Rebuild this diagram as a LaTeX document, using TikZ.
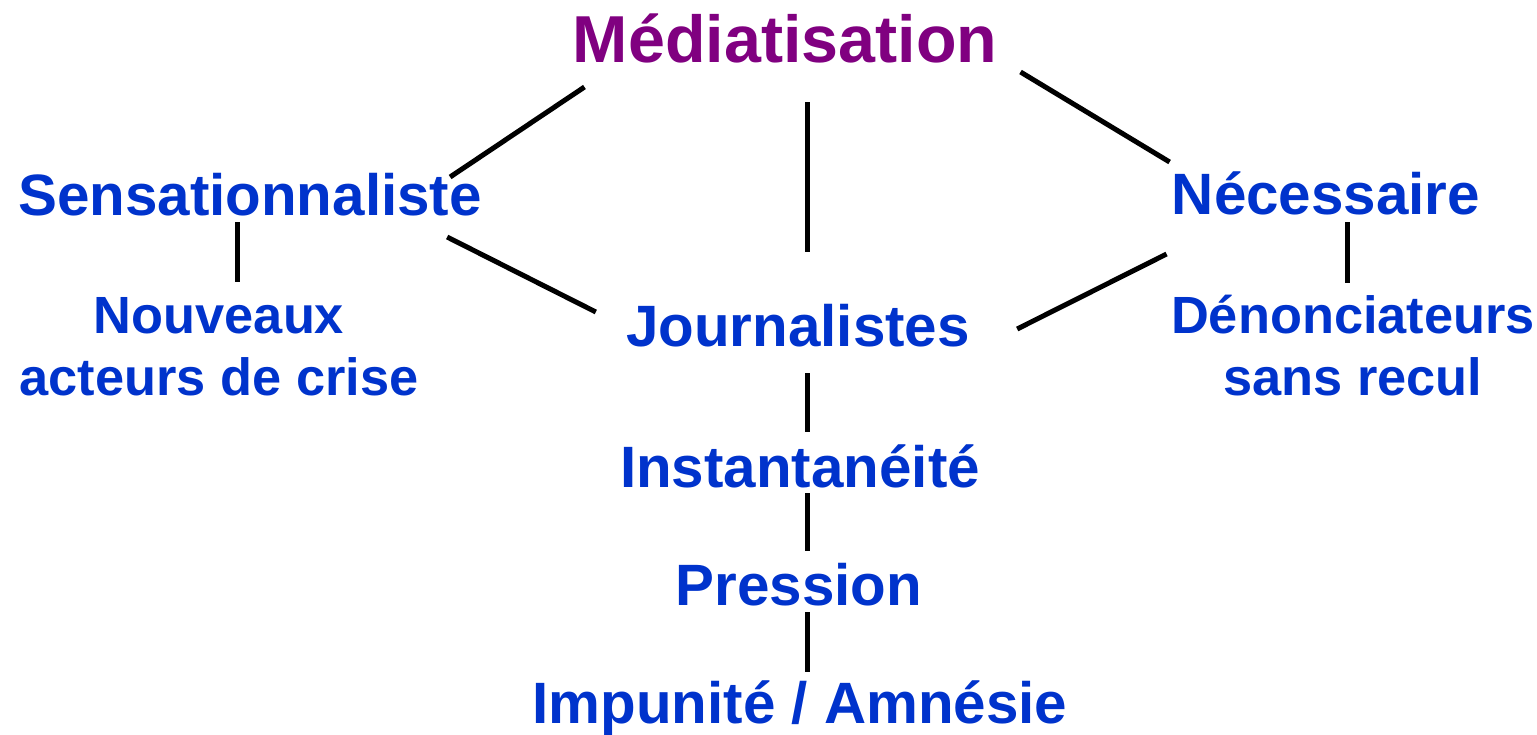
\documentclass[tikz,border=0pt]{standalone}
\usepackage{fontspec}
\setmainfont{Liberation Sans}
\usepackage{tikz}
\usetikzlibrary{calc}
\definecolor{termblue}{HTML}{0033CC}
\definecolor{rootpurple}{HTML}{800080}

\begin{document}
\begin{tikzpicture}[x=0.02cm, y=-0.02cm,
    term/.style={inner sep=0pt, anchor=base, text=termblue, font=\fontsize{33.2}{36}\selectfont\bfseries},
    sub/.style={inner sep=0pt, anchor=base, align=center, text=termblue, font=\fontsize{29.8}{35.2}\selectfont\bfseries},
    link/.style={line width=0.1cm}]
    \useasboundingbox (0,0) rectangle (1537,734);
    \node[inner sep=0pt, anchor=base, text=rootpurple, font=\fontsize{37.8}{40}\selectfont\bfseries] (M) at (785,62) {Médiatisation};
    \node[term] (S) at (250,215) {Sensationnaliste};
    \node[term] (N) at (1326,214) {Nécessaire};
    \node[term] (J) at (798,346) {Journalistes};
    \node[sub] (SN) at (219,395) {Nouveaux\\acteurs de crise};
    \node[sub] (ND) at (1353,395) {Dénonciateurs\\sans recul};
    \node[term] (I) at (800,487) {Instantanéité};
    \node[term] (P) at (799,605) {Pression};
    \node[term] (A) at (800,723) {Impunité / Amnésie};
    % liens
    \draw[link] ($(M.base west)+(12,25)$) -- ($(S.base east)+(-32,-38)$);
    \draw[link] ($(M.base)+(22,40)$) -- ($(J.base)+(9,-94)$);
    \draw[link] ($(M.base east)+(23,10)$) -- ($(N.base west)+(-2,-52)$);
    \draw[link] ($(S.base east)+(-35,22)$) -- ($(J.base west)+(-30,-34)$);
    \draw[link] ($(N.base west)+(-5,40)$) -- ($(J.base east)+(47,-17)$);
    \draw[link] ($(S.base)+(-13,7)$) -- ($(SN.base)+(18,-113)$);
    \draw[link] ($(N.base)+(21,8)$) -- ($(ND.base)+(-6,-112)$);
    \draw[link] ($(J.base)+(9,27)$) -- ($(I.base)+(7,-55)$);
    \draw[link] ($(I.base)+(7,6)$) -- ($(P.base)+(8,-54)$);
    \draw[link] ($(P.base)+(8,7)$) -- ($(A.base)+(7,-51)$);
\end{tikzpicture}
\end{document}
